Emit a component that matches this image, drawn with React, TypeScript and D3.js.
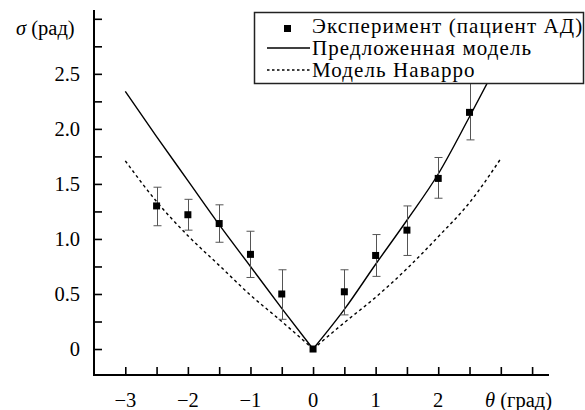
import React, { useRef, useEffect } from 'react';
import * as d3 from 'd3';

// experiment points (patient AD)
const expTheta = [-2.5, -2, -1.5, -1, -0.5, 0, 0.5, 1, 1.5, 2, 2.5];
const expSigma = [1.30, 1.22, 1.14, 0.86, 0.50, 0, 0.52, 0.85, 1.08, 1.55, 2.15];
const expLow = [1.12, 1.08, 0.97, 0.65, 0.27, 0, 0.31, 0.66, 0.85, 1.37, 1.90];
const expHigh = [1.47, 1.36, 1.31, 1.07, 0.72, 0, 0.72, 1.04, 1.30, 1.74, 2.45];

// proposed model (two branches, cusp at zero)
const modelThetaLeft = [-3, -2.5, -2, -1.5, -1, -0.5, 0];
const modelSigmaLeft = [2.34, 1.93, 1.53, 1.13, 0.75, 0.37, 0];
const modelThetaRight = [0, 0.5, 1, 1.5, 2, 2.5, 3];
const modelSigmaRight = [0, 0.36, 0.77, 1.17, 1.59, 2.11, 2.65];

// Navarro model
const navThetaLeft = [-3, -2.5, -2, -1.5, -1, -0.5, 0];
const navSigmaLeft = [1.71, 1.34, 1.03, 0.76, 0.49, 0.25, 0];
const navThetaRight = [0, 0.5, 1, 1.5, 2, 2.5, 3];
const navSigmaRight = [0, 0.24, 0.47, 0.73, 1.02, 1.33, 1.73];

const xTickValues = [-3, -2.5, -2, -1.5, -1, -0.5, 0, 0.5, 1, 1.5, 2, 2.5, 3, 3.5];
const xTickLabels = [-3, -2, -1, 0, 1, 2];
const yTickValues = [0, 0.25, 0.5, 0.75, 1, 1.25, 1.5, 1.75, 2, 2.25, 2.5, 2.75, 3];
const yTickLabels = [0, 0.5, 1, 1.5, 2, 2.5];

const legendLabels = ['Эксперимент (пациент АД)', 'Предложенная модель', 'Модель Наварро'];

const chartStyle = {
  font: "'Liberation Serif', Tinos, 'Times New Roman', 'DejaVu Serif', serif",
  tickFontSize: 20.5,
  legendFontSize: 21,
  legendSpacing: 1.1,
  axisWidth: 2,
  tickSize: 8,
  lineWidth: 1.4,
  dash: '3,3',
  errColor: '#555',
};

type Pt = { t: number; s: number };
const zip = (t: number[], s: number[]): Pt[] => t.map((d, i) => ({ t: d, s: s[i] }));

const App: React.FC = () => {
  const svgRef = useRef<SVGSVGElement>(null);
  const width = 585;
  const height = 410;

  useEffect(() => {
    if (!svgRef.current) return;
    const svg = d3.select(svgRef.current);
    svg.selectAll('*').remove();

    const x = d3.scaleLinear().domain([-3.5, 3.77]).range([94, 549]);
    const y = d3.scaleLinear().domain([-0.236, 3.08]).range([375, 10]);

    const line = d3.line<Pt>()
      .x(d => x(d.t))
      .y(d => y(d.s))
      .curve(d3.curveMonotoneX);

    // model lines
    const g = svg.append('g');
    [zip(modelThetaLeft, modelSigmaLeft), zip(modelThetaRight, modelSigmaRight)].forEach(pts => {
      g.append('path').datum(pts)
        .attr('fill', 'none').attr('stroke', '#000')
        .attr('stroke-width', chartStyle.lineWidth)
        .attr('d', line);
    });
    [zip(navThetaLeft, navSigmaLeft), zip(navThetaRight, navSigmaRight)].forEach(pts => {
      g.append('path').datum(pts)
        .attr('fill', 'none').attr('stroke', '#000')
        .attr('stroke-width', 1.4)
        .attr('stroke-dasharray', chartStyle.dash)
        .attr('d', line);
    });

    // error bars
    const eb = svg.append('g').attr('stroke', chartStyle.errColor).attr('stroke-width', 1);
    expTheta.forEach((t, i) => {
      if (expHigh[i] === expLow[i]) return;
      const cx = Math.round(x(t)) + 0.5;
      eb.append('line').attr('x1', cx).attr('x2', cx).attr('y1', y(expLow[i])).attr('y2', y(expHigh[i]));
      [expLow[i], expHigh[i]].forEach(v => {
        eb.append('line').attr('x1', cx - 4).attr('x2', cx + 4).attr('y1', y(v)).attr('y2', y(v));
      });
    });

    // markers
    svg.append('g').selectAll('rect')
      .data(zip(expTheta, expSigma))
      .join('rect')
      .attr('x', d => x(d.t) - 3.5)
      .attr('y', d => y(d.s) - 3.5)
      .attr('width', 7).attr('height', 7)
      .attr('fill', '#000');

    // axes (inward ticks)
    const xAxis = d3.axisTop<number>(x).tickValues(xTickValues).tickSize(chartStyle.tickSize).tickFormat(() => '');
    const yAxis = d3.axisRight<number>(y).tickValues(yTickValues).tickSize(chartStyle.tickSize).tickFormat(() => '');
    const gx = svg.append('g').attr('transform', `translate(0,${y.range()[0]})`).call(xAxis);
    const gy = svg.append('g').attr('transform', `translate(${x.range()[0]},0)`).call(yAxis);
    [gx, gy].forEach(a => {
      a.select('.domain').remove();
      a.selectAll('.tick line').attr('stroke-width', 1.6);
    });
    svg.append('line')
      .attr('x1', x.range()[0]).attr('x2', x.range()[1])
      .attr('y1', y.range()[0]).attr('y2', y.range()[0])
      .attr('stroke', '#000').attr('stroke-width', chartStyle.axisWidth);
    svg.append('line')
      .attr('x1', x.range()[0]).attr('x2', x.range()[0])
      .attr('y1', y.range()[0] + 1).attr('y2', y.range()[1])
      .attr('stroke', '#000').attr('stroke-width', chartStyle.axisWidth);

    // tick labels
    const fmtX = (v: number) => (v < 0 ? '\u2212' + Math.abs(v) : String(v));
    const fmtY = (v: number) => (v === 0 ? '0' : d3.format('.1f')(v));
    svg.append('g').selectAll('text').data(xTickLabels).join('text')
      .attr('x', d => x(d)).attr('y', 407)
      .attr('text-anchor', 'middle')
      .style('font-family', chartStyle.font).attr('font-size', chartStyle.tickFontSize)
      .text(fmtX);
    svg.append('g').selectAll('text').data(yTickLabels).join('text')
      .attr('x', 80).attr('y', d => y(d) + 7)
      .attr('text-anchor', 'end')
      .style('font-family', chartStyle.font).attr('font-size', chartStyle.tickFontSize)
      .text(fmtY);

    // axis titles
    const yt = svg.append('text').attr('x', 16).attr('y', 35)
      .style('font-family', chartStyle.font).attr('font-size', chartStyle.tickFontSize);
    yt.append('tspan').attr('font-style', 'italic').text('σ');
    yt.append('tspan').text(' (рад)');
    const xt = svg.append('text').attr('x', 552).attr('y', 407).attr('text-anchor', 'end')
      .style('font-family', chartStyle.font).attr('font-size', chartStyle.tickFontSize);
    xt.append('tspan').attr('font-style', 'italic').text('θ');
    xt.append('tspan').text(' (град)');

    // legend
    const lg = svg.append('g');
    lg.append('rect').attr('x', 254.5).attr('y', 12.5).attr('width', 329).attr('height', 71)
      .attr('fill', '#fff').attr('stroke', '#222').attr('stroke-width', 1.5);
    const rows = [33, 55, 77];
    lg.append('rect').attr('x', 284).attr('y', 25).attr('width', 7).attr('height', 7).attr('fill', '#000');
    lg.append('line').attr('x1', 267).attr('x2', 310).attr('y1', 48).attr('y2', 48)
      .attr('stroke', '#000').attr('stroke-width', chartStyle.lineWidth);
    lg.append('line').attr('x1', 267).attr('x2', 310).attr('y1', 70).attr('y2', 70)
      .attr('stroke', '#000').attr('stroke-width', 1.4).attr('stroke-dasharray', '2.5,2.5');
    lg.selectAll('text.lbl').data(legendLabels).join('text')
      .attr('class', 'lbl')
      .attr('x', 312).attr('y', (_, i) => rows[i])
      .style('font-family', chartStyle.font).attr('font-size', chartStyle.legendFontSize)
      .attr('letter-spacing', chartStyle.legendSpacing)
      .text(d => d);
  }, []);

  return (
    <svg ref={svgRef} width={width} height={height}
      style={{ position: 'absolute', left: 0, top: 0, background: '#fff' }} />
  );
};

export default App;
